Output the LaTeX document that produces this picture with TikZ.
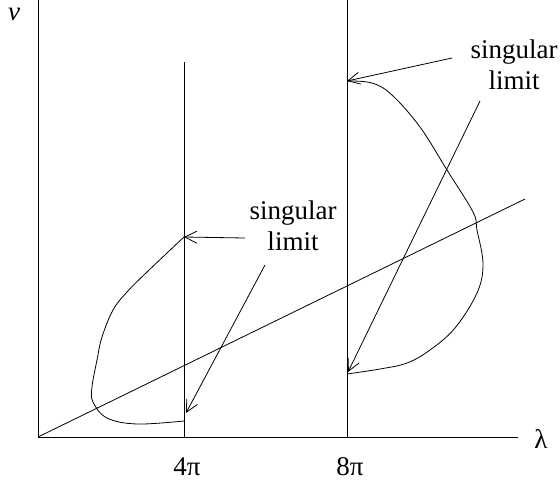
\documentclass[tikz,border=0pt]{standalone}
\usepackage{fontspec}
\setmainfont{Liberation Serif}
\usetikzlibrary{arrows.meta}

\begin{document}
\begin{tikzpicture}[x=1pt, y=-1pt, line width=0.8pt,
    every node/.style={font=\fontsize{27}{31}\selectfont, inner sep=0pt},
    pointer/.style={-{Straight Barb[length=12pt, width=12pt]}}]
    \useasboundingbox (0,0) rectangle (560,485);
    % axes
    \coordinate (origin) at (38,437);
    \coordinate (vtop) at (38,0);
    \coordinate (lend) at (518,437);
    \draw (vtop) -- (origin) -- (lend);
    \node (vlabel) at (14,14) {\textit{v}};
    \node (lambda) at (541,439) {λ};
    % the two vertical lines
    \coordinate (fourtop) at (184,62);
    \coordinate (fourbot) at (184,438);
    \coordinate (eighttop) at (347,0);
    \coordinate (eightbot) at (347,438);
    \draw (fourtop) -- (fourbot);
    \draw (eighttop) -- (eightbot);
    \node (four) at (187,467) {4π};
    \node (eight) at (350,467) {8π};
    % diagonal
    \coordinate (diagend) at (525,199);
    \draw (origin) -- (diagend);
    % left loop
    \coordinate (leftstart) at (184,421);
    \coordinate (lefttop) at (184,237);
    \draw plot[smooth, tension=0.6] coordinates {(184,421) (137,424) (107,418) (93,402) (92,387)
        (97,360) (102,337) (113,310) (127,292) (147,272) (184,237)};
    % right loop
    \coordinate (righttop) at (347,81);
    \coordinate (rightbot) at (347,374);
    \draw plot[smooth, tension=0.6] coordinates {(347,81) (372,83) (392,95) (420,127) (447,170)
        (473,212) (477,230) (483,264) (477,293) (455,328) (430,350) (407,363) (380,369) (347,374)};
    % labels and arrows
    \node[align=center] (leftlabel) at (293,226) {singular\\limit};
    \node[align=center] (rightlabel) at (514,65) {singular\\limit};
    \coordinate (la) at (245,238);
    \coordinate (lb) at (265,265);
    \coordinate (ra) at (452,58);
    \coordinate (rb) at (480,101);
    \draw[pointer] (la) -- (lefttop);
    \draw[pointer] (lb) -- (186,413);
    \draw[pointer] (ra) -- (righttop);
    \draw[pointer] (rb) -- (348,372);
\end{tikzpicture}
\end{document}
